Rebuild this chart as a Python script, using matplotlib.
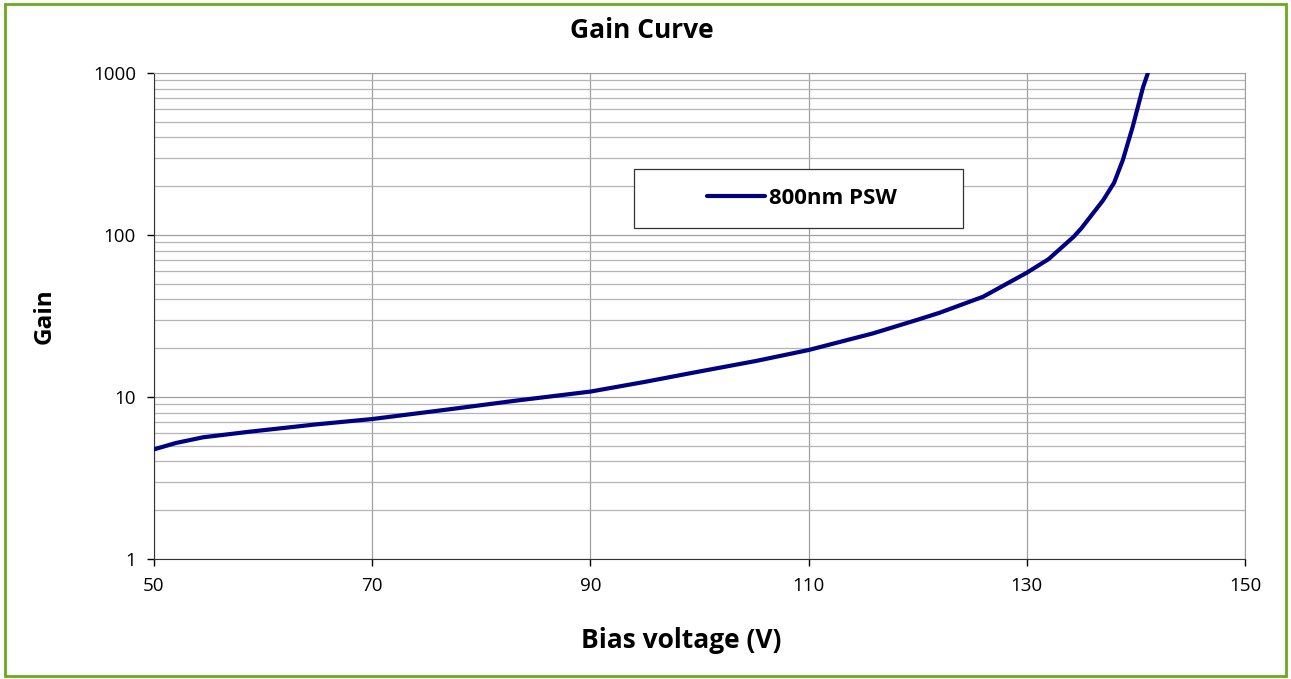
import matplotlib
matplotlib.use('Agg')
import matplotlib.pyplot as plt
from matplotlib.patches import Rectangle
from matplotlib.ticker import LogLocator, FixedLocator, NullFormatter

# data
bias_v = [50, 52, 54.5, 58.8, 64.9, 70, 77.1, 83.2, 90, 95, 99.1, 105.2, 110, 115.9,
          120, 122, 126, 130, 132, 134.3, 135, 137, 138, 138.8, 139.7, 140.65, 141.1]
gain = [4.75, 5.2, 5.64, 6.11, 6.78, 7.31, 8.4, 9.5, 10.8, 12.4, 14.0, 16.7, 19.5, 24.7,
        30.0, 33.1, 41.6, 58.5, 71, 97.6, 110, 164, 210, 290, 464, 815, 1000]
x_ticks = [50, 70, 90, 110, 130, 150]
y_ticks = [1, 10, 100, 1000]

plt.rcParams['font.family'] = ['Open Sans', 'DejaVu Sans']

fig = plt.figure(figsize=(12.91, 6.79), dpi=100)
ax = fig.add_axes([154/1291, 1 - 559/679, (1245-154)/1291, (559-73)/679])

ax.plot(bias_v, gain, color='#000080', lw=3, solid_capstyle='round',
        solid_joinstyle='round', label='800nm PSW', zorder=3)

ax.set_yscale('log')
ax.set_xlim(50, 150)
ax.set_ylim(1, 1000)
ax.xaxis.set_major_locator(FixedLocator(x_ticks))
ax.set_xticklabels([str(v) for v in x_ticks])
ax.yaxis.set_major_locator(FixedLocator(y_ticks))
ax.set_yticklabels([str(v) for v in y_ticks])
ax.yaxis.set_minor_locator(LogLocator(base=10, subs=range(2, 10)))
ax.yaxis.set_minor_formatter(NullFormatter())

ax.grid(True, which='major', axis='both', color='#a0a0a0', lw=0.9)
ax.grid(True, which='minor', axis='y', color='#b4b4b4', lw=0.9)
ax.set_axisbelow(True)

ax.tick_params(axis='both', which='major', direction='out', length=5, width=1,
               labelsize=13.5, color='black')
ax.tick_params(axis='x', pad=8)
ax.tick_params(axis='y', pad=8)
ax.tick_params(axis='y', which='minor', length=0)
for s in ['top', 'right']:
    ax.spines[s].set_color('#a0a0a0')
for s in ['left', 'bottom']:
    ax.spines[s].set_color('#333333')

ax.set_xlabel('Bias voltage (V)', fontsize=19, fontweight='bold')
ax.xaxis.set_label_coords((681-154)/1091, -(640-559)/486, transform=ax.transAxes)
ax.xaxis.label.set_va('center')
ax.set_ylabel('Gain', fontsize=17.5, fontweight='bold')
ax.yaxis.set_label_coords(-(154-45)/1091, (559-316)/486, transform=ax.transAxes)
ax.yaxis.label.set_va('center')
fig.text(642/1291, 1 - 31/679, 'Gain Curve', ha='center', va='center',
         fontsize=19, fontweight='bold')

# legend box
ax.add_patch(Rectangle(((634-154)/1091, 1 - (228-73)/486), (963-634)/1091, (228-169)/486,
                       transform=ax.transAxes, facecolor='white', edgecolor='#333333',
                       lw=0.9, zorder=4))
leg = ax.legend(loc='center', bbox_to_anchor=((802-154)/1091, 1 - (198-73)/486),
                frameon=False, handlelength=2.6, handletextpad=0.2,
                prop={'size': 16, 'weight': 'bold'})
leg.set_zorder(5)

fig.patches.append(Rectangle((5/1291, 3/679), 1281/1291, 672/679, transform=fig.transFigure,
                             fill=False, edgecolor='#6aa91e', lw=2))

fig.savefig('out.png', dpi=100)
